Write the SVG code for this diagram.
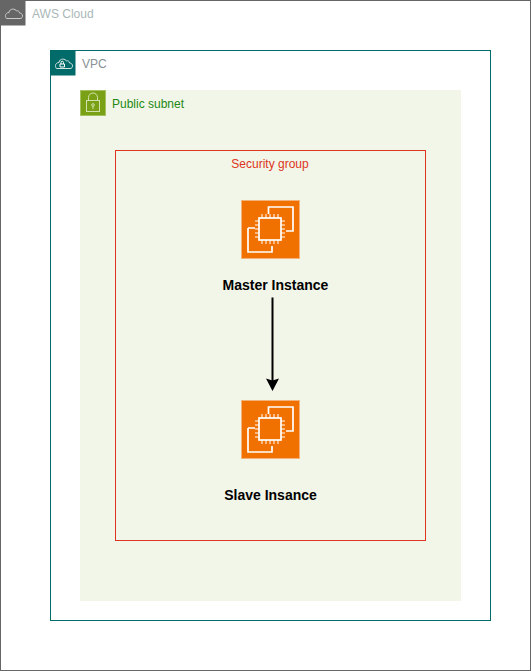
<svg xmlns="http://www.w3.org/2000/svg" width="531" height="671" viewBox="0 0 531 671">
<style>
text{font-family:"Liberation Sans",Arial,sans-serif;font-size:12px}
.lbl{font-size:14px;font-weight:700;fill:#000;text-anchor:middle}
.ic{fill:none;stroke:#fff;stroke-width:1.700}
.thin{fill:none;stroke:#fff;stroke-width:1}
.lock{fill:none;stroke:#d3e2ac;stroke-width:1}
</style>
<defs>
<g id="ec2">
<rect x="0.500" y="0.500" width="58" height="58" fill="#f07000" stroke="#f3b27a" stroke-width="1"/>
<path class="ic" d="M27.500 14V7H52V31H45M7 28H14M7 28V52H31V46"/>
<rect class="ic" x="18" y="18" width="22" height="22"/>
<path class="thin" d="M21 14v4M25 14v4M29 14v4M33 14v4M37 14v4M21 40v4M25 40v4M29 40v4M33 40v4M37 40v4M14 21h4M14 25h4M14 29h4M14 33h4M14 37h4M40 21h4M40 25h4M40 29h4M40 33h4M40 37h4"/>
</g>
</defs>
<rect width="531" height="671" fill="#fff"/>
<g id="aws-cloud">
<rect x="0.500" y="0.500" width="530" height="670" fill="#fff" stroke="#666"/>
<rect x="0.500" y="0.500" width="25" height="25" fill="#666"/>
<path d="M6.500 18.500h13.500c2 0 2.500-1.500 2.500-2.500 0-2-1.500-3-3-3 0-2-2-2.500-3-2-1-2.500-7-3-7.500 1.500-2 0-3.500 1.500-3.500 3 0 1.500 .5 3 1 3z" fill="none" stroke="#ccc" stroke-width="1"/>
<text x="32" y="18" fill="#aab7b8">AWS Cloud</text>
</g>
<g id="vpc">
<rect x="50.500" y="50.500" width="440" height="570" fill="#fff" stroke="#006b68"/>
<rect x="50.500" y="50.500" width="25" height="25" fill="#006b68"/>
<path d="M56.500 68.500h13.500c2 0 2.500-1.500 2.500-2.500 0-2-1.500-3-3-3 0-2-2-2.500-3-2-1-2.500-7-3-7.500 1.500-2 0-3.500 1.500-3.500 3 0 1.500 .5 3 1 3z" fill="none" stroke="#d5e6e5" stroke-width="1"/>
<path d="M60 67v-3h4.500v3zM61 64v-1.500a1.200 1.200 0 0 1 2.500 0V64" fill="none" stroke="#fff" stroke-width="1"/>
<text x="82" y="68" fill="#879196">VPC</text>
</g>
<g id="public-subnet">
<rect x="80" y="90" width="381" height="511" fill="#f2f6e8"/>
<rect x="80.500" y="90.500" width="25" height="25" fill="#7aa116" stroke="#a5c160"/>
<path class="lock" d="M88.500 100.500v-3a4.500 4.500 0 0 1 9 0v3"/>
<rect class="lock" x="86.500" y="100.500" width="13" height="11"/>
<circle class="lock" cx="93" cy="105" r="1.300"/>
<path class="lock" d="M93 106.300v2.700"/>
<text x="112" y="108" fill="#248814">Public subnet</text>
</g>
<g id="security-group">
<rect x="115.500" y="150.500" width="310" height="390" fill="none" stroke="#dd3522"/>
<text x="270" y="168" fill="#dd3522" text-anchor="middle">Security group</text>
</g>
<g id="master-instance">
<use href="#ec2" x="241" y="200"/>
<text class="lbl" x="275.500" y="290">Master Instance</text>
</g>
<g id="slave-instance">
<use href="#ec2" x="241" y="400"/>
<text class="lbl" x="270.500" y="500">Slave Insance</text>
</g>
<g id="connectors">
<path d="M272.500 297.500V381" fill="none" stroke="#000" stroke-width="2"/>
<path d="M272.500 391L266 378.500L272.500 380.500L279 378.500Z" fill="#000"/>
</g>
</svg>
